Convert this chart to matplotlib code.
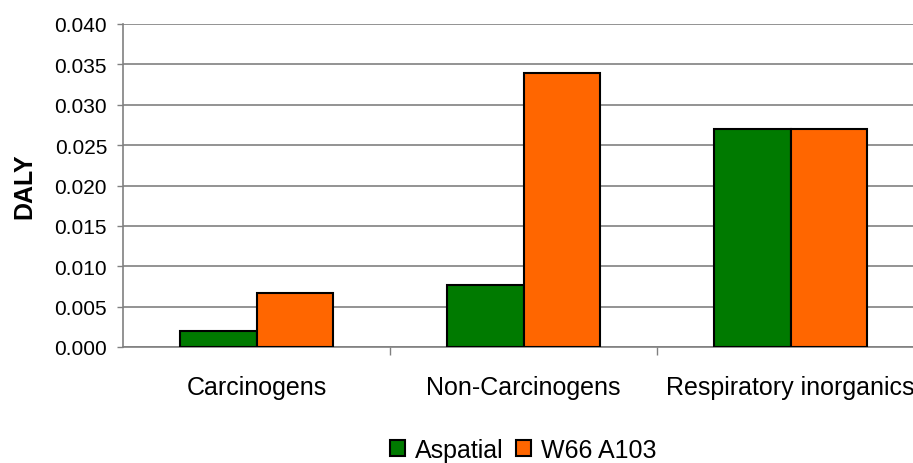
import matplotlib.pyplot as plt
import numpy as np

plt.rcParams['font.family'] = ['Liberation Sans', 'DejaVu Sans']

categories = ['Carcinogens', 'Non-Carcinogens', 'Respiratory inorganics']
aspatial = [0.0020, 0.0077, 0.0270]
w66_a103 = [0.0067, 0.0339, 0.0270]
series_names = ['Aspatial', 'W66 A103']
colors = ['#007A00', '#FF6600']

fig = plt.figure(figsize=(9.13, 4.64), dpi=100)
# plot area runs a little past the right edge, as in the reference
ax = fig.add_axes([123 / 913, (464 - 348) / 464, 801 / 913, 323 / 464])

x = np.arange(len(categories))
w = 0.285
ax.bar(x - w / 2, aspatial, w, color=colors[0], edgecolor='black', linewidth=1.5,
       label=series_names[0], zorder=3)
ax.bar(x + w / 2, w66_a103, w, color=colors[1], edgecolor='black', linewidth=1.5,
       label=series_names[1], zorder=3)

ax.set_xlim(-0.5, 2.5)
ax.set_ylim(0, 0.040)
ax.set_yticks(np.arange(0, 0.0401, 0.005))
ax.set_yticklabels([f'{v:.3f}' for v in np.arange(0, 0.0401, 0.005)], fontsize=15)
ax.yaxis.grid(True, color='#808080', linewidth=1.2, zorder=0)
ax.set_axisbelow(True)

ax.set_xticks(x)
ax.set_xticklabels(categories, fontsize=18)
ax.tick_params(axis='x', which='major', length=0, pad=20)
ax.set_xticks([0.5, 1.5], minor=True)
ax.tick_params(axis='x', which='minor', length=6, color='#808080', width=1)
ax.tick_params(axis='y', length=4.5, color='#808080', width=1, pad=7)

for s in ['top', 'right']:
    ax.spines[s].set_visible(False)
ax.spines['left'].set_color('#808080')
ax.spines['bottom'].set_color('#808080')
ax.spines['left'].set_linewidth(1.2)
ax.spines['bottom'].set_linewidth(1.2)

ax.set_ylabel('DALY', fontsize=18, fontweight='bold')
ax.yaxis.set_label_coords(-87 / 801, 0.5)

ax.legend(loc='center', bbox_to_anchor=(0.5, -0.318), ncol=2, frameon=False,
          fontsize=18, handlelength=0.6, handleheight=0.6, handletextpad=0.4,
          columnspacing=0.5, borderaxespad=0)

fig.savefig('out.png', dpi=100)
